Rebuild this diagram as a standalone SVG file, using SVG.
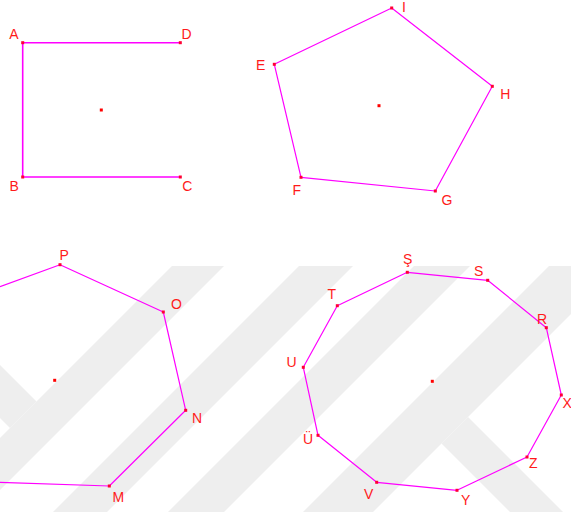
<svg xmlns="http://www.w3.org/2000/svg" width="571" height="512" viewBox="0 0 571 512">
<style>
.wm{fill:#eeeeee}
.edge{fill:none;stroke:#ff00ff;stroke-width:1.2;stroke-linejoin:round}
.sq{stroke-width:1.6}
.pt{fill:#ff0033}
.ctr{fill:#ff0000}
.lbl{font-family:"Liberation Sans",Arial,sans-serif;font-size:14px;fill:#ff1a1a}
</style>
<defs>
<rect id="dot" x="-1.5" y="-1.5" width="3" height="3" class="pt"/>
<rect id="cdot" x="-1.5" y="-1.5" width="3" height="3" class="ctr"/>
</defs>
<rect width="571" height="512" fill="#ffffff"/>
<g id="watermark">
<polygon class="wm" points="172,266 224,266 0,490 0,438"/>
<polygon class="wm" points="0,365 36.5,401.5 10,428 0,418"/>
<polygon class="wm" points="299,266 353,266 107,512 53,512"/>
<polygon class="wm" points="414,266 470,266 224,512 168,512"/>
<polygon class="wm" points="549,266 571,266 571,314 373,512 303,512"/>
<polygon class="wm" points="468,417 563,512 510,512 441.5,443.5"/>
</g>
<g id="connectors">
<polyline class="edge sq" points="180.3,42.7 22.7,42.7 22.7,177 180.3,177"/>
<polygon class="edge" points="391.7,8 492.3,86.3 435.3,191 301,177.3 274.3,64.3"/>
<polyline class="edge" points="0,286.7 60,264.7 163.3,312 185.7,410.3 109.3,486 0,482.3"/>
<polygon class="edge" points="407.3,272.3 487.7,280.3 546.3,327.7 561.3,395 527,457 457,490.3 376.7,482.3 318,435.3 303.3,367.3 337.3,305.7"/>
</g>
<g id="center-square"><use href="#cdot" x="101.3" y="110"/></g>
<g id="center-pentagon"><use href="#cdot" x="379" y="105.7"/></g>
<g id="center-heptagon"><use href="#cdot" x="54.7" y="380.3"/></g>
<g id="center-decagon"><use href="#cdot" x="432.3" y="381.3"/></g>
<g id="A"><use href="#dot" x="22.7" y="42.7"/><text class="lbl" x="9.3" y="38.5">A</text></g>
<g id="D"><use href="#dot" x="180.3" y="42.7"/><text class="lbl" x="181.5" y="39.3">D</text></g>
<g id="B"><use href="#dot" x="22.7" y="177"/><text class="lbl" x="9.5" y="191">B</text></g>
<g id="C"><use href="#dot" x="180.3" y="177"/><text class="lbl" x="182.3" y="191">C</text></g>
<g id="I"><use href="#dot" x="391.7" y="8"/><text class="lbl" x="402" y="12">I</text></g>
<g id="H"><use href="#dot" x="492.3" y="86.3"/><text class="lbl" x="500.3" y="99">H</text></g>
<g id="G"><use href="#dot" x="435.3" y="191"/><text class="lbl" x="441.5" y="204.5">G</text></g>
<g id="F"><use href="#dot" x="301" y="177.3"/><text class="lbl" x="292.5" y="195">F</text></g>
<g id="E"><use href="#dot" x="274.3" y="64.3"/><text class="lbl" x="256" y="70">E</text></g>
<g id="P"><use href="#dot" x="60" y="264.7"/><text class="lbl" x="59.5" y="260">P</text></g>
<g id="O"><use href="#dot" x="163.3" y="312"/><text class="lbl" x="171" y="309.3">O</text></g>
<g id="N"><use href="#dot" x="185.7" y="410.3"/><text class="lbl" x="192" y="423.3">N</text></g>
<g id="M"><use href="#dot" x="109.3" y="486"/><text class="lbl" x="112.5" y="501.7">M</text></g>
<g id="Ş"><use href="#dot" x="407.3" y="272.3"/><text class="lbl" x="403" y="264">Ş</text></g>
<g id="S"><use href="#dot" x="487.7" y="280.3"/><text class="lbl" x="474" y="275.7">S</text></g>
<g id="R"><use href="#dot" x="546.3" y="327.7"/><text class="lbl" x="537" y="323.5">R</text></g>
<g id="X"><use href="#dot" x="561.3" y="395"/><text class="lbl" x="562.5" y="407.7">X</text></g>
<g id="Z"><use href="#dot" x="527" y="457"/><text class="lbl" x="529" y="468">Z</text></g>
<g id="Y"><use href="#dot" x="457" y="490.3"/><text class="lbl" x="461" y="505">Y</text></g>
<g id="V"><use href="#dot" x="376.7" y="482.3"/><text class="lbl" x="364" y="498.5">V</text></g>
<g id="Ü"><use href="#dot" x="318" y="435.3"/><text class="lbl" x="303" y="444">Ü</text></g>
<g id="U"><use href="#dot" x="303.3" y="367.3"/><text class="lbl" x="286.5" y="366.5">U</text></g>
<g id="T"><use href="#dot" x="337.3" y="305.7"/><text class="lbl" x="327.5" y="298.5">T</text></g>
</svg>
